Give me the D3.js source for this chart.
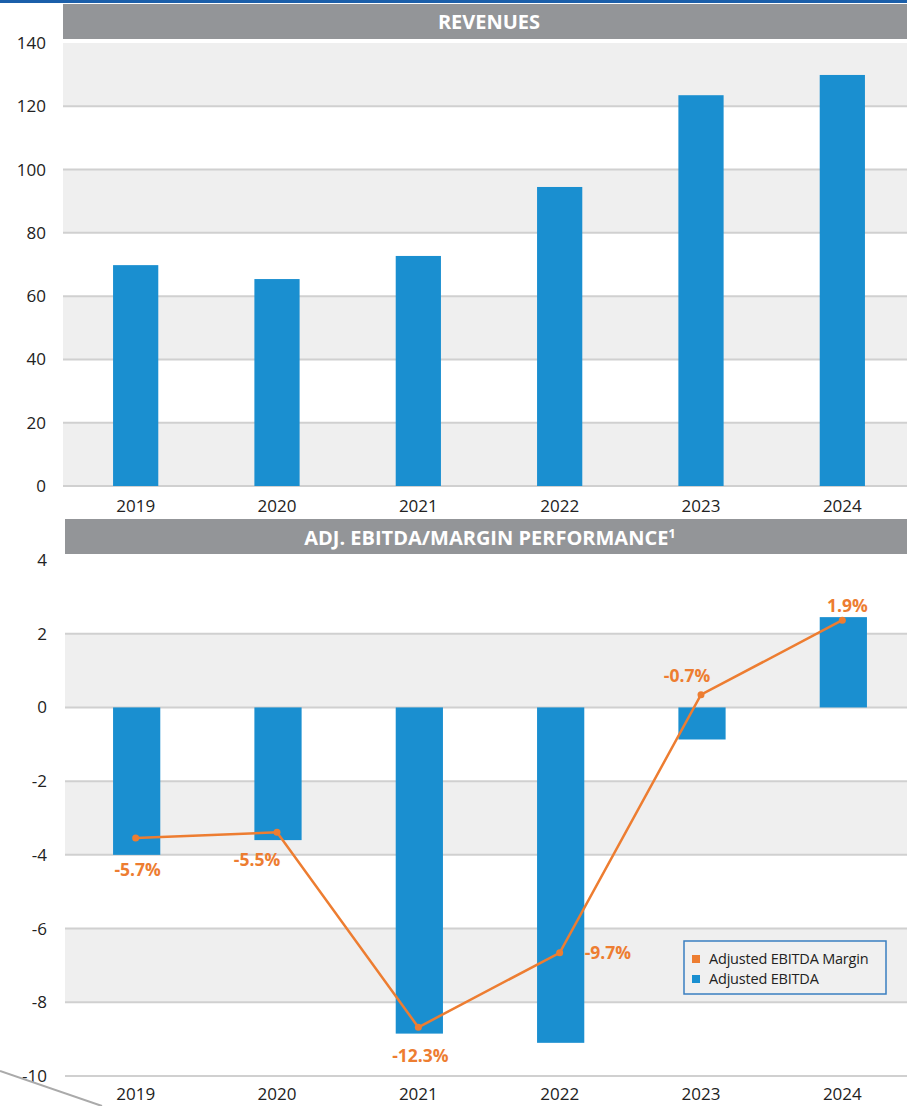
<!DOCTYPE html>
<html>
<head>
<meta charset="utf-8">
<script src="https://cdn.jsdelivr.net/npm/d3@7"></script>
<style>
  html, body { margin: 0; padding: 0; background: #fff; }
  svg { display: block; }
  text { font-family: "Open Sans", "Noto Sans", sans-serif; }
</style>
</head>
<body>
<svg id="chart" width="907" height="1106"></svg>
<script>
// ---- data ----
const years = ["2019", "2020", "2021", "2022", "2023", "2024"];
const revenues = [69.8, 65.4, 72.7, 94.5, 123.5, 129.9];
const adjEbitda = [-4.0, -3.6, -8.85, -9.1, -0.87, 2.45];
const adjEbitdaMargin = [-5.7, -5.5, -12.3, -9.7, -0.7, 1.9];
const marginLabels = ["-5.7%", "-5.5%", "-12.3%", "-9.7%", "-0.7%", "1.9%"];
const revenueTicks = [0, 20, 40, 60, 80, 100, 120, 140];
const ebitdaTicks = [-10, -8, -6, -4, -2, 0, 2, 4];
const titleTop = "REVENUES";
const titleBottom = "ADJ. EBITDA/MARGIN PERFORMANCE";
const legendItems = ["Adjusted EBITDA Margin", "Adjusted EBITDA"];

// ---- style ----
const BLUE = "#1a8fd0";
const ORANGE = "#ed7d31";
const BAND = "#efefef";
const GRID = "#d0d0d0";
const TITLE_BG = "#939598";

const svg = d3.select("#chart");
const W = 907;
const fmt = d => String(d);

svg.append("rect").attr("x", 0).attr("y", 0).attr("width", W).attr("height", 3).attr("fill", "#1b5faa");

const x = d3.scaleBand().domain(years).range([65, 913]).paddingInner(0.68).paddingOuter(0.34);

function drawBands(g, ticks, y, grayFromTop, left) {
  const sorted = ticks.slice().sort((a, b) => b - a);
  for (let i = 0; i < sorted.length - 1; i++) {
    const gray = (i % 2 === 0) === grayFromTop;
    if (gray) {
      g.append("rect")
        .attr("x", left).attr("y", y(sorted[i]))
        .attr("width", W - left).attr("height", y(sorted[i + 1]) - y(sorted[i]))
        .attr("fill", BAND);
    }
  }
}

// ================= TOP CHART =================
const yTop = d3.scaleLinear().domain([0, 140]).range([486, 43]);
const gTop = svg.append("g");

gTop.append("rect").attr("x", 63).attr("y", 4).attr("width", W - 63).attr("height", 35).attr("fill", TITLE_BG);
gTop.append("text").attr("x", 489).attr("y", 22).attr("dy", "0.36em")
  .attr("text-anchor", "middle").attr("fill", "#fff")
  .style("font-size", "20px").style("font-weight", "700").text(titleTop);

drawBands(gTop, revenueTicks, yTop, true, 63);

gTop.append("g").selectAll("line").data(revenueTicks.filter(t => t < 140)).join("line")
  .attr("x1", 63).attr("x2", W)
  .attr("y1", d => yTop(d)).attr("y2", d => yTop(d))
  .attr("stroke", GRID).attr("stroke-width", 2);

const yAxisTop = d3.axisLeft(yTop).tickValues(revenueTicks).tickFormat(fmt).tickSize(0).tickPadding(0);
gTop.append("g").attr("transform", "translate(46,0)").call(yAxisTop)
  .call(g => g.select(".domain").remove())
  .call(g => g.selectAll("text").attr("fill", "#222").style("font-size", "17px")
    .style("font-family", "'Open Sans', sans-serif"));

gTop.append("g").selectAll("rect").data(years).join("rect")
  .attr("x", d => x(d)).attr("width", x.bandwidth())
  .attr("y", (d, i) => yTop(revenues[i]))
  .attr("height", (d, i) => yTop(0) - yTop(revenues[i]))
  .attr("fill", BLUE);

const xAxisTop = d3.axisBottom(x).tickSize(0).tickPadding(0);
gTop.append("g").attr("transform", "translate(0,506)").call(xAxisTop)
  .call(g => g.select(".domain").remove())
  .call(g => g.selectAll("text").attr("dy", "0.36em").attr("fill", "#222").style("font-size", "17px")
    .style("font-family", "'Open Sans', sans-serif"));

// ================= BOTTOM CHART =================
const yBot = d3.scaleLinear().domain([-10, 4]).range([1076, 560]);
const yMargin = d3.scaleLinear().domain([-14, 4]).range([1076, 560]);
const gBot = svg.append("g");

gBot.append("rect").attr("x", 65).attr("y", 519).attr("width", W - 65).attr("height", 35).attr("fill", TITLE_BG);
const tb = gBot.append("text").attr("x", 490).attr("y", 538).attr("dy", "0.36em")
  .attr("text-anchor", "middle").attr("fill", "#fff")
  .style("font-size", "20px").style("font-weight", "700");
tb.append("tspan").text(titleBottom);
tb.append("tspan").attr("dy", "-7").style("font-size", "13px").text("1");

drawBands(gBot, ebitdaTicks, yBot, false, 65);

gBot.append("g").selectAll("line").data(ebitdaTicks.filter(t => t < 4)).join("line")
  .attr("x1", 65).attr("x2", W)
  .attr("y1", d => yBot(d)).attr("y2", d => yBot(d))
  .attr("stroke", GRID).attr("stroke-width", 2);

const yAxisBot = d3.axisLeft(yBot).tickValues(ebitdaTicks).tickFormat(fmt).tickSize(0).tickPadding(0);
gBot.append("g").attr("transform", "translate(47,0)").call(yAxisBot)
  .call(g => g.select(".domain").remove())
  .call(g => g.selectAll("text").attr("fill", "#222").style("font-size", "17px")
    .style("font-family", "'Open Sans', sans-serif"));

gBot.append("g").selectAll("rect").data(years).join("rect")
  .attr("x", d => x(d)).attr("width", x.bandwidth() + 2)
  .attr("y", (d, i) => yBot(Math.max(0, adjEbitda[i])))
  .attr("height", (d, i) => Math.abs(yBot(adjEbitda[i]) - yBot(0)))
  .attr("fill", BLUE);

const cx = d => x(d) + x.bandwidth() / 2;
const line = d3.line().x((d, i) => cx(years[i])).y(d => yMargin(d));
gBot.append("path").datum(adjEbitdaMargin).attr("d", line)
  .attr("fill", "none").attr("stroke", ORANGE).attr("stroke-width", 2.5);
gBot.append("g").selectAll("circle").data(adjEbitdaMargin).join("circle")
  .attr("cx", (d, i) => cx(years[i])).attr("cy", d => yMargin(d)).attr("r", 3.5)
  .attr("fill", ORANGE);

const labelOffsets = [[2, 32, "middle"], [-20, 27, "middle"], [2, 28, "middle"], [25, 0, "start"], [-14, -19, "middle"], [5, -15, "middle"]];
gBot.append("g").selectAll("text").data(adjEbitdaMargin).join("text")
  .attr("x", (d, i) => cx(years[i]) + labelOffsets[i][0])
  .attr("y", (d, i) => yMargin(d) + labelOffsets[i][1])
  .attr("dy", "0.36em")
  .attr("text-anchor", (d, i) => labelOffsets[i][2])
  .attr("fill", ORANGE).style("font-size", "17.5px").style("font-weight", "700")
  .text((d, i) => marginLabels[i]);

const xAxisBot = d3.axisBottom(x).tickSize(0).tickPadding(0);
gBot.append("g").attr("transform", "translate(0,1094)").call(xAxisBot)
  .call(g => g.select(".domain").remove())
  .call(g => g.selectAll("text").attr("dy", "0.36em").attr("fill", "#222").style("font-size", "17px")
    .style("font-family", "'Open Sans', sans-serif"));

const lg = gBot.append("g").attr("transform", "translate(684,941)");
lg.append("rect").attr("width", 202).attr("height", 53).attr("fill", "#f0f0f0")
  .attr("stroke", "#3a7fc1").attr("stroke-width", 1.5);
const legendColors = [ORANGE, BLUE];
legendItems.forEach((t, i) => {
  lg.append("rect").attr("x", 8).attr("y", 14 + i * 20).attr("width", 8).attr("height", 8).attr("fill", legendColors[i]);
  lg.append("text").attr("x", 25).attr("y", 18 + i * 20).attr("dy", "0.36em")
    .attr("fill", "#222").style("font-size", "14.5px").style("letter-spacing", "-0.2px").text(t);
});

svg.append("line").attr("x1", 0).attr("y1", 1071).attr("x2", 102).attr("y2", 1106)
  .attr("stroke", "#aaa").attr("stroke-width", 2);
</script>
</body>
</html>
